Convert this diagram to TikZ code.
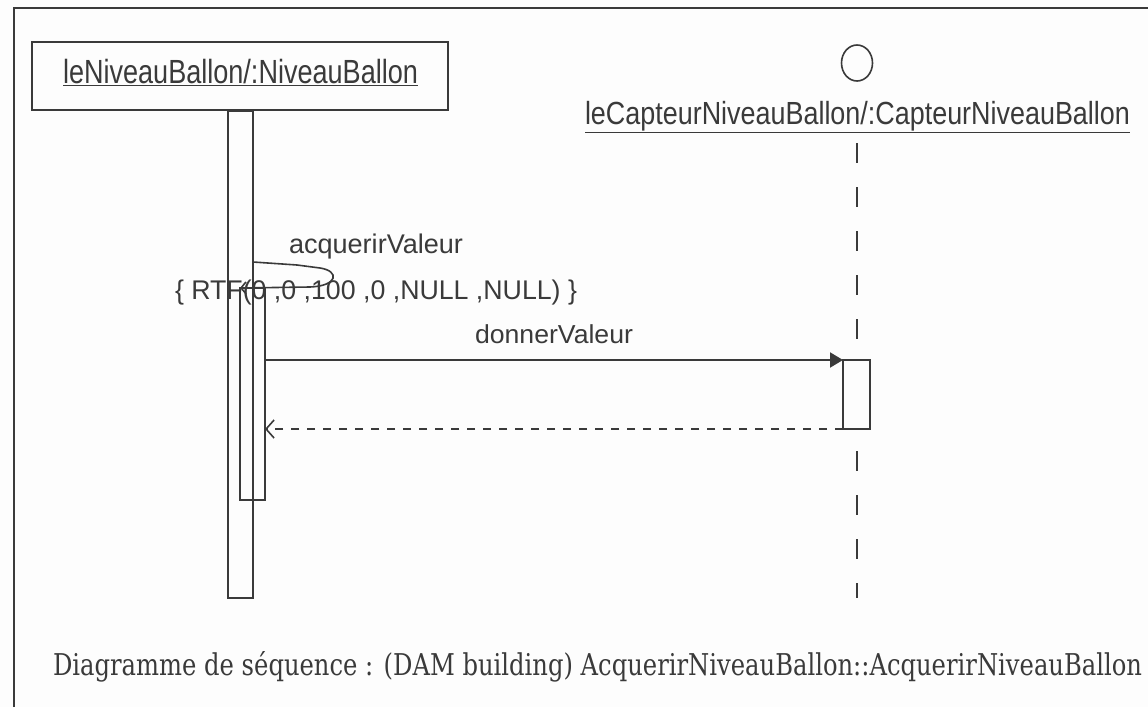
\documentclass[tikz,border=0pt]{standalone}
\usepackage{fontspec}
\setmainfont{Liberation Serif}
\newfontfamily\sansf{Liberation Sans}
\newfontfamily\capf{DejaVu Serif}
\usetikzlibrary{arrows.meta}
\definecolor{ink}{HTML}{3A3A3A}
\definecolor{paper}{HTML}{FDFDFD}
\newcommand{\fitlab}[3]{\resizebox{#1}{\height}{\sansf\fontsize{#2}{#2}\selectfont #3}}
\begin{document}
\begin{tikzpicture}[x=1pt,y=-1pt,
  every node/.style={inner sep=0pt, outer sep=0pt, text=ink},
  lab/.style={anchor=base west},
  objbox/.style={draw=ink, line width=2pt},
  actbox/.style={draw=ink, line width=2pt},
  actfill/.style={draw=ink, line width=2pt, fill=paper},
  entity/.style={draw=ink, line width=1.6pt},
  lifeline/.style={draw=ink, line width=1.6pt, dash pattern=on 20pt off 24pt},
  msg/.style={draw=ink, line width=2pt, -{Triangle[length=13pt,width=15pt]}},
  selfmsg/.style={draw=ink, line width=1.6pt, -{Straight Barb[length=5pt,width=12pt]}},
  ret/.style={draw=ink, line width=1.6pt, dash pattern=on 8pt off 8pt, -{Straight Barb[length=8pt,width=18pt]}},
  frameln/.style={draw=ink, line width=1.6pt}]
\fill[paper] (0,0) rectangle (1148,707);
\useasboundingbox (0,0) rectangle (1148,707);
\draw[frameln] (14,707) -- (14,8) -- (1148,8);

% object leNiveauBallon
\node[objbox, minimum width=416pt, minimum height=68pt] (obj) at (240,76) {};
\node[lab] (objlbl) at (63,83) {\fitlab{355pt}{33.5}{\underline{leNiveauBallon/:NiveauBallon}}};

% entity leCapteurNiveauBallon
\draw[entity] (857,63) ellipse [x radius=15.5pt, y radius=18pt];
\node[lab] (entlbl) at (585,124) {\fitlab{545pt}{32}{\underline{leCapteurNiveauBallon/:CapteurNiveauBallon}}};
\coordinate (lifetop) at (857,143);
\coordinate (lifebot) at (857,598);
\draw[lifeline] (lifetop) -- (lifebot);

% labels
\node[lab] (l1) at (289,253) {\fitlab{174pt}{27}{acquerirValeur}};
\node[lab] (l2) at (175,299) {\fitlab{402pt}{27}{\{ RTF(0 ,0 ,100 ,0 ,NULL ,NULL) \}}};
\node[lab] (l3) at (475,343) {\fitlab{158pt}{26}{donnerValeur}};

% activations
\node[actbox, minimum width=25pt, minimum height=487pt] (act1) at (240.5,354.5) {};
\node[actbox, minimum width=25pt, minimum height=212pt] (act2) at (252.5,394) {};
\node[actfill, minimum width=27pt, minimum height=69pt] (act3) at (856.5,394.5) {};

% self message
\coordinate (selfy) at (0,262);
\draw[selfmsg] (act1.east |- selfy) -- (297,265) -- (320,268)
  .. controls (340,271) and (338,286) .. (310,287) -- (act2.north west);

% messages
\draw[msg] (act2.east |- act3.north west) -- (act3.north west);
\draw[ret] (act3.south west) -- (act2.east |- act3.south west);

% caption
\node[lab] (cap) at (53,675) {\resizebox{1089pt}{\height}{\capf\fontsize{30}{30}\selectfont Diagramme de séquence : (DAM building) AcquerirNiveauBallon::AcquerirNiveauBallon}};
\end{tikzpicture}
\end{document}
